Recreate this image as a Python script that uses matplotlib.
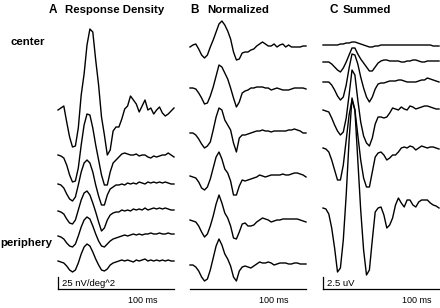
import numpy as np
import matplotlib
matplotlib.use("Agg")
import matplotlib.pyplot as plt

plt.rcParams['font.family'] = ['Liberation Sans', 'DejaVu Sans']

W, H = 440, 308

# common time base of every trace (ms)
time_ms = np.arange(0, 201, 5)

# A: response density, nV/deg^2, centre ring first
density = [
    [0, 4, 8, -24, -54, -74, -72, -36, 30, 72, 130, 162, 156, 100, 50, -14, -50, -90, -80, -42,
     -34, -34, -18, 2, 8, 28, 20, 12, -4, 8, 20, 0, 4, -8, 0, 6, -6, -12, -8, -2, 4],
    [0, -2, -6, -20, -40, -54, -52, -26, 20, 60, 82, 80, 54, 20, -10, -40, -60, -60, -34, -16,
     -10, -4, 2, 4, 2, 0, 0, 2, -2, 0, 0, -4, -6, -2, -4, -2, 0, 0, 4, 0, -4],
    [0, -2, -8, -20, -30, -34, -26, -2, 24, 42, 48, 42, 24, -2, -24, -42, -42, -22, -10, -6,
     -2, -2, 0, -2, 2, 0, 2, 0, 4, 2, 0, 4, 2, 4, 2, 4, 2, 4, 2, 0, 0],
    [0, -2, -6, -16, -24, -26, -18, 2, 22, 36, 40, 32, 16, -2, -22, -40, -34, -18, -8, -4,
     -2, -2, 2, 0, 2, 0, 4, 2, 4, 2, 6, 2, 4, 6, 4, 6, 4, 6, 4, 2, 2],
    [0, -2, -6, -14, -20, -22, -16, 0, 18, 32, 38, 34, 20, 4, -10, -20, -22, -16, -10, -6,
     -4, -2, 0, 2, 0, 2, 4, 2, 4, 2, 4, 4, 6, 4, 4, 6, 4, 4, 6, 4, 4],
    [0, -2, -4, -10, -18, -22, -18, -4, 14, 28, 34, 30, 18, 4, -8, -18, -20, -16, -8, -4,
     -2, 0, 2, 0, 2, 0, -2, 2, 0, 2, 4, 0, 2, 0, 2, 0, 2, 0, 2, 0, 0],
]

# B: each ring normalised (% of peak)
normalized = [
    [0, 8, 12, -8, -32, -44, -32, 0, 28, 60, 92, 104, 88, 64, 32, -20, -52, -48, -24, -20,
     -20, -12, -8, 4, 12, 20, 12, 4, 4, 12, 0, 8, 12, 0, 8, 0, 0, 0, 0, 4, 4],
    [4, 4, 0, -16, -36, -60, -56, -28, 8, 52, 96, 88, 64, 40, 4, -36, -72, -52, -16, -8,
     -4, 4, 4, 8, 8, 8, 4, 4, -4, 0, 4, 0, -4, -4, -4, 0, 4, 4, 4, 4, 0],
    [0, 0, -8, -24, -44, -60, -52, -36, 12, 64, 100, 92, 52, 32, 12, -40, -76, -20, -8, -8,
     -4, 0, 4, 8, 8, 12, 8, 8, 4, 8, 8, 8, 8, 8, 12, 12, 16, 12, 8, 0, 0],
    [4, 0, -4, -20, -44, -52, -40, -8, 36, 80, 100, 72, 32, 16, -16, -72, -72, -36, -12, -16,
     -12, -8, -4, 0, 8, 4, 0, 4, 8, 8, 8, 8, 12, 8, 8, 12, 16, 16, 12, 8, 0],
    [4, 0, -4, -20, -44, -64, -52, -20, 20, 68, 104, 72, 32, 12, -20, -68, -72, -44, -12, -8,
     -20, -20, -16, -4, 4, 12, 8, 4, -4, 0, 4, 4, 8, 8, 8, 8, 8, 8, 4, 0, -4],
    [-4, -4, -12, -28, -52, -68, -60, -24, 24, 72, 100, 76, 40, 20, -8, -52, -68, -28, -12, -8,
     -12, -16, -8, 0, 8, 4, 4, 8, 4, -4, 0, 4, 4, 4, 0, 0, 4, 4, 0, 0, 0],
]

# C: cumulative sum over rings, uV
summed = [
    [0, 0, 0, 0, 0, 0, 0.2, 0.2, 0.4, 0.4, 0.6, 0.6, 0.4, 0.2, 0, -0.2, -0.4, -0.4, -0.2, -0.2,
     0, 0, 0, 0, 0, 0, 0, 0, 0, 0, 0, 0, 0, 0, 0, 0, 0, 0, -0.2, -0.2, -0.2],
    [0, 0, 0, -0.4, -1.0, -1.6, -2.0, -1.2, 0, 1.4, 2.8, 2.8, 1.6, 0.6, -0.2, -1.0, -1.8, -1.8, -1.0, -0.2,
     0.2, 0.4, 0.4, 0.2, 0.2, 0.2, 0.2, 0, 0, 0.2, 0.2, 0.4, 0.4, 0.2, 0, 0, 0.2, 0.2, 0.2, 0.2, 0.2],
    [0, 0, 0, -0.6, -1.6, -2.8, -3.6, -3.0, -0.6, 2.8, 5.6, 5.4, 3.6, 1.0, -1.2, -3.0, -4.0, -3.0, -1.4, -0.4,
     -0.2, -0.2, 0, 0.2, 0.2, 0.2, 0.4, 0.4, 0.2, 0, 0, 0, 0, 0.2, 0.4, 0.4, 0.8, 0.6, 0.4, 0.2, 0],
    [0, -0.2, -0.4, -1.6, -3.0, -4.2, -5.0, -4.4, -1.6, 3.0, 8.0, 7.0, 2.0, -2.4, -5.2, -6.6, -7.2, -5.6, -2.8, -1.4,
     -1.4, -1.6, -1.4, -0.6, 0.4, 0.2, 0, 0.6, 0.2, 0, 0.8, 0.6, 0.2, 0.4, 0.6, 0.8, 0.8, 0.6, 0.4, 0.2, 0.2],
    [0, -0.2, -0.8, -2.4, -4.4, -6.4, -6.4, -3.4, 1.6, 6.6, 9.6, 7.6, 2.6, -2.4, -6.0, -7.8, -7.8, -4.8, -1.8, -1.0,
     -0.8, -1.4, -2.4, -2.0, -1.4, -1.4, -0.8, 0, 0.2, 0, 0.4, 0.2, -0.4, 0, 0.4, 0.2, 0, 0.2, 0.2, 0, -0.2],
    [0, -0.2, -1.2, -4.0, -8.0, -12.8, -12.0, -6.4, 2.6, 13.6, 22.0, 19.6, 9.6, -0.4, -8.4, -13.4, -12.4, -6.4, -0.8, 0,
     0.2, -1.4, -4.0, -3.4, -2.0, 0.6, 2.0, 1.0, 0.2, 1.6, 1.6, 0.6, 0.2, 1.2, 1.6, 1.6, 1.6, 1.0, 0.6, 0.4, 0],
]

# layout (pixels): left edge of each panel, trace baselines, units per pixel
SPAN = 116
AXIS_Y = 289
panels = [
    dict(left=58, base=[110, 155, 184, 211, 236, 261], per_px=2.0, traces=density,
         bar=25, bar_label="25 nV/deg^2", ms_right=157),
    dict(left=190, base=[47, 89, 133, 177, 221, 264], per_px=4.0, traces=normalized,
         bar=None, bar_label=None, ms_right=288),
    dict(left=323, base=[45, 62, 82, 110, 148, 208], per_px=0.2, traces=summed,
         bar=2.5, bar_label="2.5 uV", ms_right=431),
]

fig = plt.figure(figsize=(W / 100, H / 100), dpi=100)


def fx(x):
    return x / W


def fy(y):
    return 1 - y / H


for p in panels:
    ax = fig.add_axes([fx(p['left']), 0, SPAN / W, 1])
    ax.set_xlim(time_ms[0], time_ms[-1])
    ax.set_ylim(0, H * p['per_px'])
    ax.axis('off')
    for vals, b in zip(p['traces'], p['base']):
        ax.plot(time_ms, np.asarray(vals) + (H - b) * p['per_px'], color='black', lw=1.0,
                clip_on=False, solid_joinstyle='round')
    y0 = (H - AXIS_Y) * p['per_px']
    ax.plot([time_ms[0], time_ms[-1]], [y0, y0], color='black', lw=0.9, clip_on=False)
    if p['bar']:
        ax.plot([time_ms[0], time_ms[0]], [y0, y0 + p['bar']], color='black', lw=0.9,
                clip_on=False)
        fig.text(fx(p['left'] + 4), fy(286), p['bar_label'], fontsize=6.8, va='baseline')
    fig.text(fx(p['ms_right']), fy(303), "100 ms", fontsize=6.5, ha='right', va='baseline')

# panel titles
for letter, title, x, tx in [("A", "Response Density", 49, 65), ("B", "Normalized", 190, 207),
                             ("C", "Summed", 329, 343)]:
    fig.text(fx(x), fy(13), letter, fontsize=8.5, fontweight='bold', va='baseline')
    fig.text(fx(tx), fy(13), title, fontsize=8.2, fontweight='bold', va='baseline')

fig.text(fx(10), fy(45), "center", fontsize=8.2, fontweight='bold', va='baseline')
fig.text(fx(0), fy(246), "periphery", fontsize=8.2, fontweight='bold', va='baseline')

fig.savefig("out.png", dpi=100)
